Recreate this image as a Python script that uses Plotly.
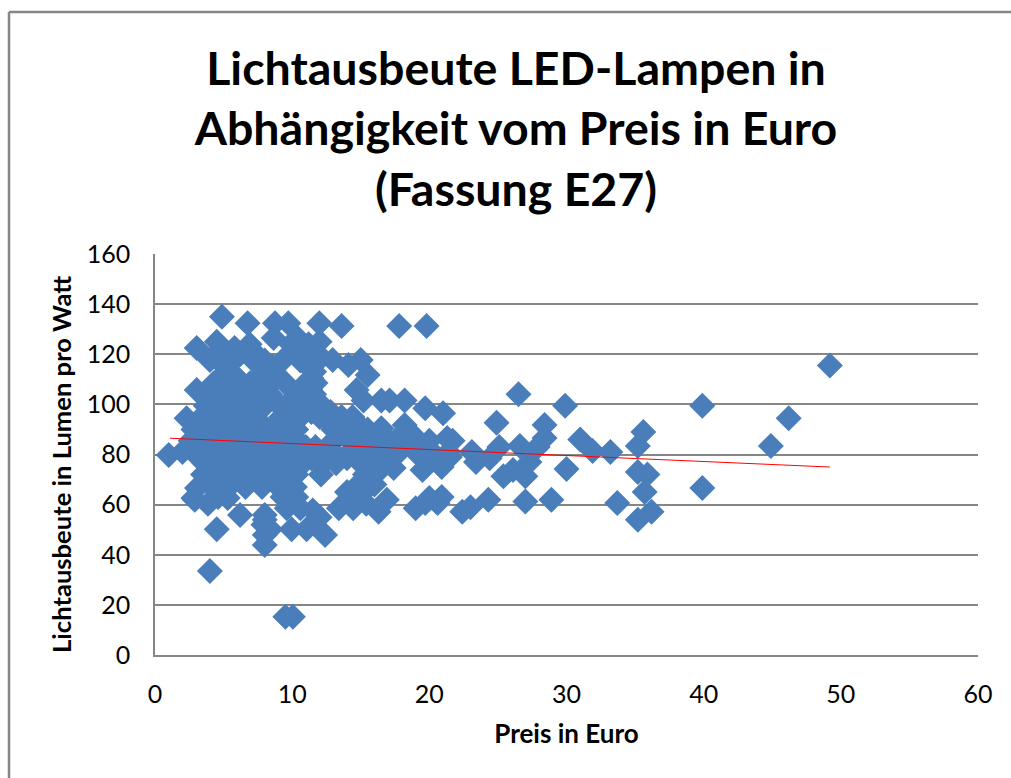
import plotly.graph_objects as go

# efficiency (lm/W) -> prices (EUR), read row by row from the dense cloud
rows = {
135: [4.88],
132.4: [6.75, 8.75, 9.72, 11.98],
131.3: [13.6, 17.8, 19.8],
126.5: [8.65, 10.4],
125: [4.5, 12.0],
124: [6.9, 9.9, 11.2],
122.5: [3.04, 5.8],
122: [7.0, 10.3, 11.4],
120: [6.2, 11.0, 11.9],
118: [5.8, 7.1],
117.7: [4.0, 5.0, 12.95, 15],
117.5: [8.0, 9.3, 10.6, 11.9],
115.7: [14.1],
115: [5.1, 8.6, 11.2],
113: [5.2, 8.6, 11.6],
111.7: [15.5],
110.5: [4.9, 6.0, 7.6, 8.9, 11.4],
108.5: [4.3, 5.2, 6.95, 8.2, 9.5, 11.0, 11.7],
106: [5.1, 6.5, 7.7, 10.6, 11.3],
105.7: [3.04, 14.7],
104: [4.5, 5.9, 7.2, 8.4, 10.4, 11.6, 26.5],
101.5: [16.5, 17.1, 18.2, 15.2, 4.3, 5.7, 7.2, 8.7, 10.1, 11.4],
99.5: [3.7, 5.0, 6.5, 8.0, 10.8, 12.2, 29.9, 39.9],
99: [9.4],
98.5: [19.7],
97: [4.2, 5.7, 7.2, 10.0, 11.4, 12.8],
96.5: [21.0],
95: [3.4, 4.8, 6.1, 7.1, 9.2, 10.6, 12, 13.6, 14.4],
94.5: [2.3, 46.2],
92.7: [24.9, 3.6, 4.9, 6.3, 7.7, 9.0, 12.8, 14.7],
91.8: [18.2, 28.4],
90.5: [16.5],
90: [2.8, 4.2, 5.6, 7.0, 8.2, 9.6, 10.3, 13, 13.7, 15, 15.5],
89: [35.6],
88: [3.2, 4.6, 5.9, 7.2, 8.6, 9.9, 14.6],
87.8: [18.8],
86.6: [21.3, 28.4],
86: [31.0, 17.0],
85.5: [2.6, 3.9, 5.2, 6.5, 7.8, 9.1, 10.4, 13, 14.3, 16.6, 17.5, 20.0, 21.7, 16.0, 14.5],
84: [18.5],
83.4: [26.6, 35.2, 44.9],
83: [11.7, 15.7, 25.1, 27.9, 3.5, 5.0, 6.2, 7.4, 8.6, 9.8, 11.0],
81.4: [31.9],
81: [2.0, 3.2, 4.4, 5.6, 6.8, 8, 9.2, 10.4, 13, 14.2, 15.3, 16.6, 17.8, 19, 20.2, 21.4, 23.1, 33.2],
79.8: [1.0, 3.0],
79: [21.5],
78.5: [24.4, 4.2, 5.4, 6.6, 7.8, 9.0, 10.2, 11.4, 12.6, 14.0, 15.5],
78: [17.2],
77.8: [20.2],
77: [23.4, 27.3],
76.5: [3.6, 4.8, 6, 7.2, 8.4, 9.6, 10.8, 12, 13.2, 15.0, 15.6, 16.5],
75: [20.9],
74.6: [17.4],
74.2: [30.0],
74: [4.1, 5.3, 6.5, 7.7, 8.9],
73.8: [16.4, 19.5, 26.1],
73: [35.2],
72: [3.5, 4.7, 5.9, 7.1, 8.3, 9.5, 10.3, 12.1, 15.3, 35.9],
71.3: [25.4, 27.0],
69.5: [3.8, 5.0, 6.2, 7.4, 8.6, 9.8],
69: [15],
68: [16.0],
67: [4.2, 5.4, 6.6, 7.8, 9, 10.2],
66.6: [3.06, 39.9],
65: [14, 35.7],
64: [15],
63: [4.6, 9.3, 10.3, 20.9],
62.6: [2.8, 5.3, 20],
61.9: [2.9, 16.9, 24.3, 28.9],
61.2: [27.0],
60.6: [19.7, 20.6, 33.7],
60.3: [3.86, 15.4],
59: [23],
58.6: [9.6, 10.6, 13.4, 14.45, 19],
57.7: [11.5],
57.2: [16.3, 22.4, 36.2],
55.9: [6.2, 8.0],
55: [12.0],
54: [8.0, 35.2],
52: [7.9],
50.2: [4.5, 8.4, 9.96, 11.05],
47.9: [8.0, 12.4],
43.9: [8.0],
33.5: [4.0],
15.3: [9.5, 10.05],
115.5: [49.2],
}
trend_x = [1.1, 49.2]
trend_y = [86.5, 75]

title = "Lichtausbeute LED-Lampen in<br>Abhängigkeit vom Preis in Euro<br>(Fassung E27)"
x_title = "Preis in Euro"
y_title = "Lichtausbeute in Lumen pro Watt"

xs = [x for y, r in rows.items() for x in r]
ys = [y for y, r in rows.items() for x in r]

fig = go.Figure()
fig.add_trace(go.Scatter(x=xs, y=ys, mode="markers", cliponaxis=False,
                         marker=dict(symbol="diamond", size=20, color="#4A7EBB")))
fig.add_trace(go.Scatter(x=trend_x, y=trend_y, mode="lines", line=dict(color="#FF0000", width=1)))

W, H = 1011, 778
L, R, T, B = 155, 978, 254, 655
font = "Lato, Carlito, Calibri, sans-serif"
fig.update_layout(
    width=W, height=H, autosize=False, showlegend=False,
    paper_bgcolor="white", plot_bgcolor="white",
    margin=dict(l=L, r=W - R, t=T, b=H - B, autoexpand=False),
    font=dict(family=font, color="#000000"),
    title=dict(text="<b>" + title + "</b>", font=dict(size=46.5, family=font), x=516 / W, xanchor="center",
               y=1 - 85 / H, yanchor="top"),
    xaxis=dict(range=[0, 60], dtick=10, showgrid=False, showline=True, linecolor="#868686", linewidth=1.5,
               ticks="", tickfont=dict(size=25), zeroline=False,
               ticklabelstandoff=16,
               title=dict(text="<b>" + x_title + "</b>", font=dict(size=26), standoff=18)),
    yaxis=dict(range=[0, 160], dtick=20, showgrid=True, gridcolor="#868686", gridwidth=1.5, showline=True,
               linecolor="#868686", linewidth=1.5, ticks="", tickfont=dict(size=25), zeroline=False,
               ticklabelstandoff=18),
    annotations=[dict(text="<b>" + y_title + "</b>", xref="paper", yref="paper", showarrow=False,
                      textangle=-90, font=dict(size=25.6), x=(61 - L) / (R - L), y=(B - 465) / (B - T),
                      xanchor="center", yanchor="middle")],
    shapes=[
        dict(type="line", xref="paper", yref="paper", x0=(9 - L) / (R - L), x1=(9 - L) / (R - L),
             y0=(B - 12) / (B - T), y1=(B - H) / (B - T), line=dict(color="#868686", width=2.5)),
        dict(type="line", xref="paper", yref="paper", x0=(9 - L) / (R - L), x1=(W - L) / (R - L),
             y0=(B - 12) / (B - T), y1=(B - 12) / (B - T), line=dict(color="#868686", width=2.5)),
    ],
)
fig.write_html("out.html", config=dict(displayModeBar=False),
               post_script="document.body.style.margin='0';document.documentElement.style.overflow='hidden';")
